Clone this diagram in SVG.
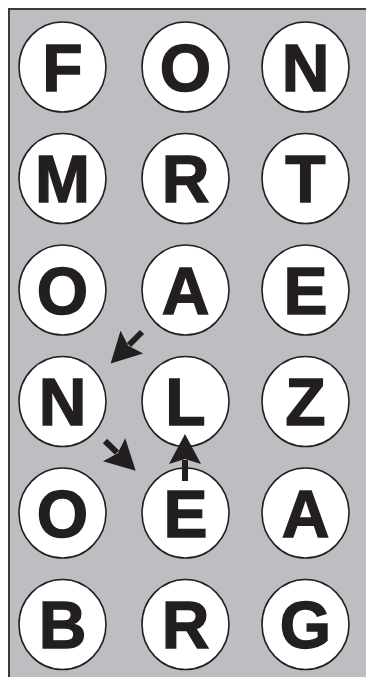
<svg xmlns="http://www.w3.org/2000/svg" width="366" height="677" viewBox="0 0 366 677">
<style>
.bg{fill:#bdbec2}
.edge{stroke:#3a3a3a;stroke-width:2;fill:none}
.c{fill:#fff;stroke:#231f20;stroke-width:1.6}
.t{font-family:"Liberation Sans",Arial,sans-serif;font-weight:bold;font-size:66px;fill:#231f20;stroke:#231f20;stroke-width:1.4;text-anchor:middle}
.sh{stroke:#231f20;stroke-width:6;fill:none}
</style>
<defs>
<marker id="ah" markerUnits="userSpaceOnUse" viewBox="0 0 30 32" refX="4" refY="16" markerWidth="30" markerHeight="32" orient="auto" overflow="visible">
<path d="M0,0 L30,16 L0,32 L5,16 Z" fill="#231f20"/>
</marker>
</defs>
<rect class="bg" x="9" y="9" width="357" height="668"/>
<path class="edge" d="M9,677 V9 H366"/>
<g id="n-r1c1"><ellipse class="c" cx="62.5" cy="67" rx="43.5" ry="45"/><text class="t" x="62.5" y="90.5">F</text></g>
<g id="n-r1c2"><ellipse class="c" cx="185.5" cy="67" rx="43.5" ry="45"/><text class="t" x="185.5" y="90.5">O</text></g>
<g id="n-r1c3"><ellipse class="c" cx="305.5" cy="67" rx="43.5" ry="45"/><text class="t" x="305.5" y="90.5">N</text></g>
<g id="n-r2c1"><ellipse class="c" cx="62.5" cy="178.5" rx="43.5" ry="45"/><text class="t" x="62.5" y="202">M</text></g>
<g id="n-r2c2"><ellipse class="c" cx="185.5" cy="178.5" rx="43.5" ry="45"/><text class="t" x="185.5" y="202">R</text></g>
<g id="n-r2c3"><ellipse class="c" cx="305.5" cy="178.5" rx="43.5" ry="45"/><text class="t" x="305.5" y="202">T</text></g>
<g id="n-r3c1"><ellipse class="c" cx="62.5" cy="290" rx="43.5" ry="45"/><text class="t" x="62.5" y="313.5">O</text></g>
<g id="n-r3c2"><ellipse class="c" cx="185.5" cy="290" rx="43.5" ry="45"/><text class="t" x="185.5" y="313.5">A</text></g>
<g id="n-r3c3"><ellipse class="c" cx="305.5" cy="290" rx="43.5" ry="45"/><text class="t" x="305.5" y="313.5">E</text></g>
<g id="n-r4c1"><ellipse class="c" cx="62.5" cy="401.5" rx="43.5" ry="45"/><text class="t" x="62.5" y="425">N</text></g>
<g id="n-r4c2"><ellipse class="c" cx="185.5" cy="401.5" rx="43.5" ry="45"/><text class="t" x="185.5" y="425">L</text></g>
<g id="n-r4c3"><ellipse class="c" cx="305.5" cy="401.5" rx="43.5" ry="45"/><text class="t" x="305.5" y="425">Z</text></g>
<g id="n-r5c1"><ellipse class="c" cx="62.5" cy="513" rx="43.5" ry="45"/><text class="t" x="62.5" y="536.5">O</text></g>
<g id="n-r5c2"><ellipse class="c" cx="185.5" cy="513" rx="43.5" ry="45"/><text class="t" x="185.5" y="536.5">E</text></g>
<g id="n-r5c3"><ellipse class="c" cx="305.5" cy="513" rx="43.5" ry="45"/><text class="t" x="305.5" y="536.5">A</text></g>
<g id="n-r6c1"><ellipse class="c" cx="62.5" cy="624.5" rx="43.5" ry="45"/><text class="t" x="62.5" y="648">B</text></g>
<g id="n-r6c2"><ellipse class="c" cx="185.5" cy="624.5" rx="43.5" ry="45"/><text class="t" x="185.5" y="648">R</text></g>
<g id="n-r6c3"><ellipse class="c" cx="305.5" cy="624.5" rx="43.5" ry="45"/><text class="t" x="305.5" y="648">G</text></g>
<g id="connectors">
<line class="sh" x1="142" y1="332" x2="129" y2="345" marker-end="url(#ah)"/>
<line class="sh" x1="105" y1="441" x2="117" y2="452.6" marker-end="url(#ah)"/>
<line class="sh" x1="185" y1="481" x2="185" y2="460" marker-end="url(#ah)"/>
</g>
</svg>
